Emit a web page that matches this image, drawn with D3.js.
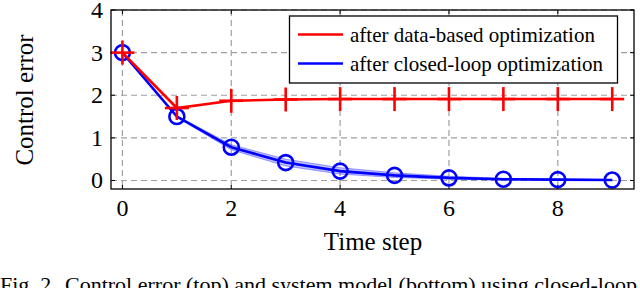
<!DOCTYPE html>
<html lang="en">
<head>
    <meta charset="UTF-8">
    <title>Control error</title>
    <script src="https://d3js.org/d3.v7.min.js"></script>
    <style>
        body { margin: 0; background: #fff; }
        text { font-family: "Liberation Serif", "Times New Roman", serif; fill: #000; }
    </style>
</head>
<body>
    <svg id="chart"></svg>

    <script>
        // Data
        const steps = [0, 1, 2, 3, 4, 5, 6, 7, 8, 9];
        const dataBased = [3, 1.7, 1.87, 1.9, 1.91, 1.91, 1.91, 1.91, 1.91, 1.91];
        const closedLoop = [3, 1.5, 0.78, 0.42, 0.22, 0.12, 0.06, 0.03, 0.02, 0.01];
        const bandLow = [3, 1.48, 0.72, 0.34, 0.15, 0.07, 0.03, 0.01, 0.005, 0.0];
        const bandHigh = [3, 1.52, 0.84, 0.5, 0.3, 0.18, 0.1, 0.05, 0.035, 0.02];
        const xTicks = [0, 2, 4, 6, 8];
        const yTicks = [0, 1, 2, 3, 4];
        const legendLabels = ["after data-based optimization", "after closed-loop optimization"];

        const width = 640, height = 288;
        const pLeft = 111, pRight = 634, pTop = 10, pBottom = 189;

        const svg = d3.select("#chart")
            .attr("width", width)
            .attr("height", height);

        const x = d3.scaleLinear().domain([-0.21, 9.4]).range([pLeft, pRight]);
        const y = d3.scaleLinear().domain([-0.2, 4]).range([pBottom, pTop]);

        // dashed grid
        svg.append("g").selectAll("line")
            .data(xTicks).enter().append("line")
            .attr("x1", d => x(d)).attr("x2", d => x(d))
            .attr("y1", pTop).attr("y2", pBottom)
            .attr("stroke", "#a0a0a0").attr("stroke-width", 1.2)
            .attr("stroke-dasharray", "6,4");
        svg.append("g").selectAll("line")
            .data(yTicks).enter().append("line")
            .attr("x1", pLeft).attr("x2", pRight)
            .attr("y1", d => y(d)).attr("y2", d => y(d))
            .attr("stroke", "#a0a0a0").attr("stroke-width", 1.2)
            .attr("stroke-dasharray", "6,4");

        // inward ticks on all four sides
        const tl = 4;
        const tickG = svg.append("g").attr("stroke", "#000").attr("stroke-width", 1);
        xTicks.forEach(t => {
            tickG.append("line").attr("x1", x(t)).attr("x2", x(t)).attr("y1", pBottom).attr("y2", pBottom - tl);
            tickG.append("line").attr("x1", x(t)).attr("x2", x(t)).attr("y1", pTop).attr("y2", pTop + tl);
        });
        yTicks.forEach(t => {
            tickG.append("line").attr("x1", pLeft).attr("x2", pLeft + tl).attr("y1", y(t)).attr("y2", y(t));
            tickG.append("line").attr("x1", pRight).attr("x2", pRight - tl).attr("y1", y(t)).attr("y2", y(t));
        });

        // tick labels
        svg.append("g").selectAll("text")
            .data(xTicks).enter().append("text")
            .attr("x", d => x(d)).attr("y", 216)
            .attr("text-anchor", "middle")
            .style("font-size", "24px")
            .text(d => d);
        svg.append("g").selectAll("text")
            .data(yTicks).enter().append("text")
            .attr("x", 103).attr("y", d => y(d) + 8)
            .attr("text-anchor", "end")
            .style("font-size", "24px")
            .text(d => d);

        // axis titles
        svg.append("text")
            .attr("x", 373).attr("y", 250)
            .attr("text-anchor", "middle")
            .style("font-size", "25px")
            .text("Time step");
        svg.append("text")
            .attr("transform", "translate(33,100) rotate(-90)")
            .attr("text-anchor", "middle")
            .style("font-size", "25px")
            .text("Control error");

        // blue confidence band
        const area = d3.area()
            .x((d, i) => x(steps[i]))
            .y0((d, i) => y(bandLow[i]))
            .y1((d, i) => y(bandHigh[i]));
        svg.append("path")
            .datum(steps)
            .attr("d", area)
            .attr("fill", "#0000ff")
            .attr("fill-opacity", 0.25)
            .attr("stroke", "#0000ff")
            .attr("stroke-opacity", 0.35)
            .attr("stroke-width", 1);

        const line = d3.line()
            .x((d, i) => x(steps[i]))
            .y(d => y(d));

        // blue line with circles
        svg.append("path")
            .datum(closedLoop)
            .attr("d", line)
            .attr("fill", "none")
            .attr("stroke", "#0000ff")
            .attr("stroke-width", 2.6);
        svg.append("g").selectAll("circle")
            .data(closedLoop).enter().append("circle")
            .attr("cx", (d, i) => x(steps[i]))
            .attr("cy", d => y(d))
            .attr("r", 7.5)
            .attr("fill", "none")
            .attr("stroke", "#0000ff")
            .attr("stroke-width", 2.6);

        // red line with plus markers
        svg.append("path")
            .datum(dataBased)
            .attr("d", line)
            .attr("fill", "none")
            .attr("stroke", "#ff0000")
            .attr("stroke-width", 2.6);
        const ms = 12;
        const plus = svg.append("g").attr("stroke", "#ff0000").attr("stroke-width", 2.6);
        dataBased.forEach((d, i) => {
            const cx = x(steps[i]), cy = y(d);
            plus.append("line").attr("x1", cx - ms).attr("x2", cx + ms).attr("y1", cy).attr("y2", cy);
            plus.append("line").attr("x1", cx).attr("x2", cx).attr("y1", cy - ms).attr("y2", cy + ms);
        });

        // frame
        svg.append("rect")
            .attr("x", pLeft).attr("y", pTop)
            .attr("width", pRight - pLeft).attr("height", pBottom - pTop)
            .attr("fill", "none")
            .attr("stroke", "#000")
            .attr("stroke-width", 1.3);

        // legend
        const lg = svg.append("g");
        lg.append("rect")
            .attr("x", 289.5).attr("y", 16)
            .attr("width", 328).attr("height", 67)
            .attr("fill", "#fff")
            .attr("stroke", "#000")
            .attr("stroke-width", 1.3);
        const legendColors = ["#ff0000", "#0000ff"];
        legendLabels.forEach((lab, i) => {
            const ly = 34.5 + i * 29;
            lg.append("line")
                .attr("x1", 298).attr("x2", 343)
                .attr("y1", ly).attr("y2", ly)
                .attr("stroke", legendColors[i])
                .attr("stroke-width", 2.6);
            lg.append("text")
                .attr("x", 350).attr("y", ly + 7)
                .style("font-size", "21px")
                .text(lab);
        });

        // caption (cut off at the bottom edge)
        svg.append("text")
            .attr("x", 0).attr("y", 292)
            .style("font-size", "22px")
            .text("Fig. 2.");
        svg.append("text")
            .attr("x", 65).attr("y", 292)
            .style("font-size", "22px")
            .text("Control error (top) and system model (bottom) using closed-loop");
    </script>
</body>
</html>
